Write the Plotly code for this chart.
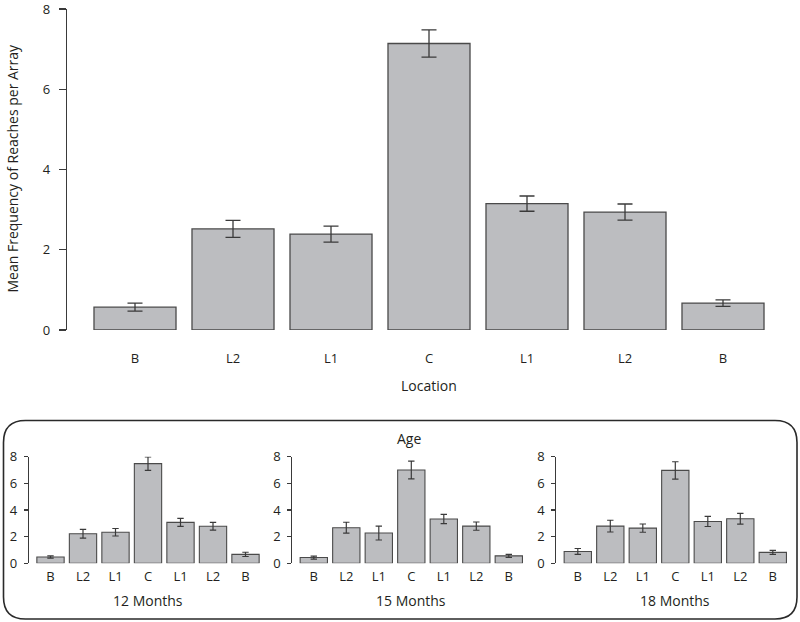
import plotly.graph_objects as go

# ---------------- data ----------------
categories = ["B", "L2", "L1", "C", "L1", "L2", "B"]

overall_mean = [0.57, 2.52, 2.39, 7.14, 3.15, 2.94, 0.67]
overall_err = [0.10, 0.21, 0.20, 0.34, 0.19, 0.20, 0.08]

age_labels = ["12 Months", "15 Months", "18 Months"]
m12_mean = [0.47, 2.22, 2.33, 7.48, 3.07, 2.78, 0.67]
m12_err = [0.08, 0.33, 0.28, 0.50, 0.30, 0.29, 0.16]
m15_mean = [0.43, 2.67, 2.27, 7.00, 3.32, 2.79, 0.56]
m15_err = [0.11, 0.41, 0.52, 0.67, 0.35, 0.31, 0.11]
m18_mean = [0.89, 2.79, 2.64, 6.97, 3.14, 3.34, 0.82]
m18_err = [0.22, 0.44, 0.31, 0.65, 0.38, 0.40, 0.15]

age_means = [m12_mean, m15_mean, m18_mean]
age_errs = [m12_err, m15_err, m18_err]
y_ticks = [0, 2, 4, 6, 8]

# ---------------- style ----------------
W, H = 800, 622
FONT = "Open Sans"
TXT = "#231f20"
BAR_FILL = "#bcbdc0"
BAR_LINE = "#4a4a4a"
AX = "#3a3a3a"


def px_x(p):
    return p / W


def px_y(p):
    return 1 - p / H


xpos = list(range(len(categories)))

fig = go.Figure()

# main chart
fig.add_trace(go.Bar(
    x=xpos, y=overall_mean, xaxis="x", yaxis="y",
    marker=dict(color=BAR_FILL, line=dict(color=BAR_LINE, width=1.3)),
    error_y=dict(type="data", array=overall_err, color=AX, thickness=1.3, width=7.5),
    width=0.837, showlegend=False, hoverinfo="skip",
))

# small multiples
for i, (m, e) in enumerate(zip(age_means, age_errs)):
    k = i + 2
    fig.add_trace(go.Bar(
        x=xpos, y=m, xaxis=f"x{k}", yaxis=f"y{k}",
        marker=dict(color=BAR_FILL, line=dict(color=BAR_LINE, width=1.1)),
        error_y=dict(type="data", array=e, color=AX, thickness=1.2, width=3.2),
        width=0.84, showlegend=False, hoverinfo="skip",
    ))

layout = dict(
    width=W, height=H,
    margin=dict(l=0, r=0, t=0, b=0, pad=0, autoexpand=False),
    paper_bgcolor="white", plot_bgcolor="white",
    font=dict(family=FONT, color=TXT, size=13),
)

# main axes
main_off = (135 - 67) / 98
layout["xaxis"] = dict(
    domain=[px_x(67), px_x(791)], range=[-main_off, 6 + main_off],
    tickvals=xpos, ticktext=categories, showline=False, showgrid=False,
    zeroline=False, ticks="", ticklabelstandoff=19, automargin=False,
    ticklabeloverflow="allow",
    tickfont=dict(size=13, family=FONT, color=TXT), fixedrange=True,
)
layout["yaxis"] = dict(
    domain=[px_y(330), px_y(9)], range=[0, 8], tickvals=y_ticks,
    showline=True, linecolor=AX, linewidth=1.3, ticks="outside", ticklen=7,
    tickcolor=AX, tickwidth=1.3, showgrid=False, zeroline=False,
    ticklabelstandoff=6, tickfont=dict(size=13, family=FONT, color=TXT),
    anchor="x", fixedrange=True, automargin=False, ticklabeloverflow="allow",
)

small_left = [29, 292.3, 556.3]
small_w = 238
small_off = 21.5 / 32.5
for i, left in enumerate(small_left):
    k = i + 2
    layout[f"xaxis{k}"] = dict(
        domain=[px_x(left), px_x(left + small_w)], range=[-small_off, 6 + small_off],
        tickvals=xpos, ticktext=categories, showline=False, showgrid=False,
        zeroline=False, ticks="", ticklabelstandoff=4, anchor=f"y{k}",
        tickfont=dict(size=13, family=FONT, color=TXT), fixedrange=True,
        automargin=False, ticklabeloverflow="allow",
    )
    layout[f"yaxis{k}"] = dict(
        domain=[px_y(563.3), px_y(456.7)], range=[0, 8], tickvals=y_ticks,
        showline=True, linecolor=AX, linewidth=1.1, ticks="outside", ticklen=4,
        tickcolor=AX, tickwidth=1.1, showgrid=False, zeroline=False,
        ticklabelstandoff=4, anchor=f"x{k}", automargin=False,
        ticklabeloverflow="allow",
        tickfont=dict(size=13, family=FONT, color=TXT), fixedrange=True,
    )

fig.update_layout(**layout)

annotations = [
    dict(text="Mean Frequency of Reaches per Array", x=px_x(12), y=px_y(168.5),
         xref="paper", yref="paper", textangle=-90, showarrow=False,
         xanchor="center", yanchor="middle", font=dict(size=14, family=FONT, color=TXT)),
    dict(text="Location", x=px_x(429), y=px_y(385), xref="paper", yref="paper",
         showarrow=False, xanchor="center", yanchor="middle",
         font=dict(size=14, family=FONT, color=TXT)),
    dict(text="Age", x=px_x(409), y=px_y(438.5), xref="paper", yref="paper",
         showarrow=False, xanchor="center", yanchor="middle",
         font=dict(size=14, family=FONT, color=TXT)),
]
for i, left in enumerate(small_left):
    annotations.append(dict(
        text=age_labels[i], x=px_x(left + small_w / 2), y=px_y(600.7),
        xref="paper", yref="paper", showarrow=False, xanchor="center",
        yanchor="middle", font=dict(size=14, family=FONT, color=TXT)))
fig.update_layout(annotations=annotations)

# rounded frame around the age panels
x0, x1, y0, y1, r = 3.5, 797, 420.5, 619, 22
rx, ry = r / W, r / H
X0, X1, Y0, Y1 = px_x(x0), px_x(x1), px_y(y0), px_y(y1)
path = (f"M {X0 + rx} {Y0} L {X1 - rx} {Y0} Q {X1} {Y0} {X1} {Y0 - ry} "
        f"L {X1} {Y1 + ry} Q {X1} {Y1} {X1 - rx} {Y1} "
        f"L {X0 + rx} {Y1} Q {X0} {Y1} {X0} {Y1 + ry} "
        f"L {X0} {Y0 - ry} Q {X0} {Y0} {X0 + rx} {Y0} Z")
fig.add_shape(type="path", path=path, xref="paper", yref="paper",
              line=dict(color="#2a2a2a", width=1.6))

fig.write_html(
    "out.html",
    config={"displayModeBar": False, "staticPlot": True},
    post_script="document.body.style.margin='0';document.body.style.overflow='hidden';",
)
